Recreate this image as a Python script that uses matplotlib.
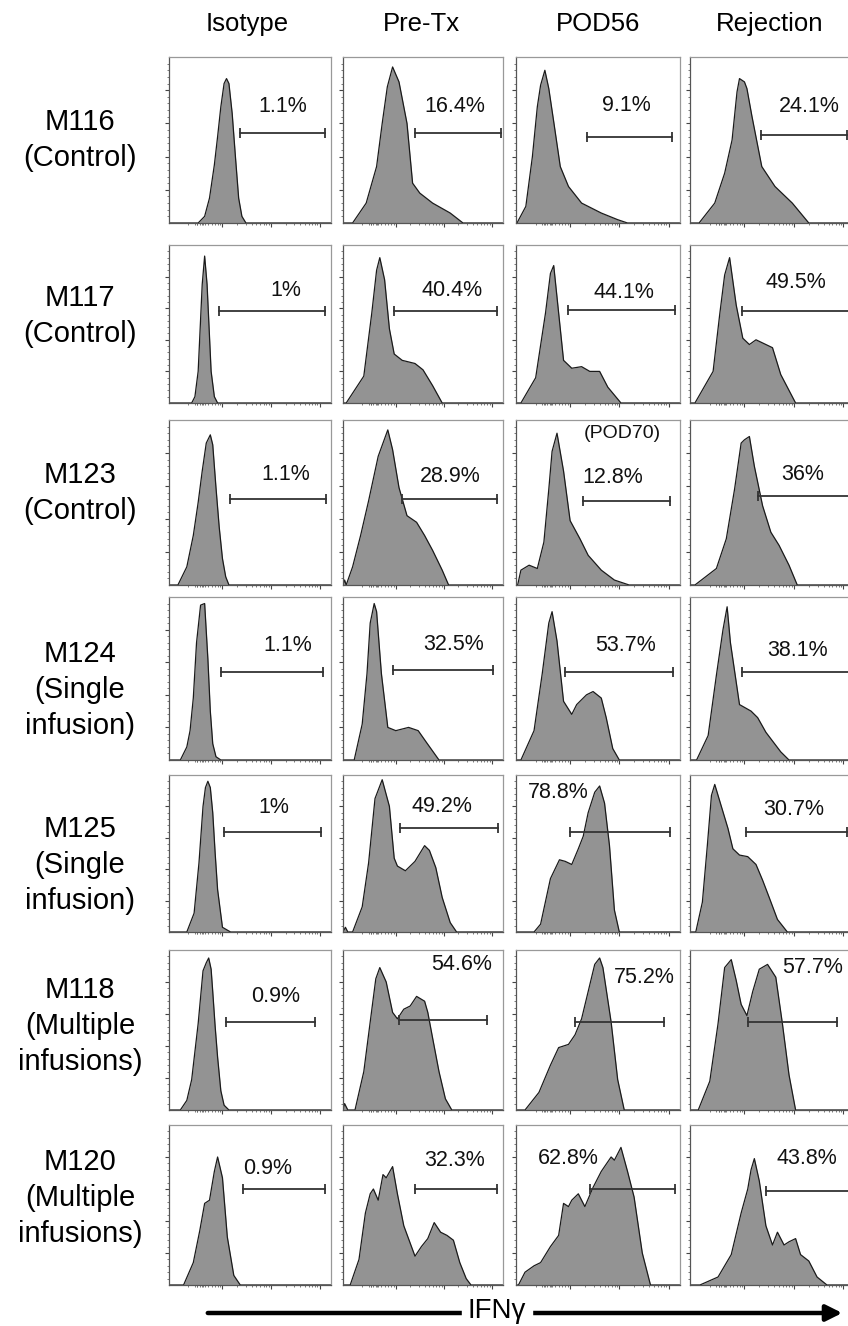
import numpy as np
import matplotlib
matplotlib.use("Agg")
import matplotlib.pyplot as plt

plt.rcParams['font.family'] = ['Liberation Sans', 'DejaVu Sans']

columns = ["Isotype", "Pre-Tx", "POD56", "Rejection"]
rows = ["M116\n(Control)", "M117\n(Control)", "M123\n(Control)",
        "M124\n(Single\ninfusion)", "M125\n(Single\ninfusion)",
        "M118\n(Multiple\ninfusions)", "M120\n(Multiple\ninfusions)"]

# percent positive per row (Isotype, Pre-Tx, POD56, Rejection)
pct_m116 = ["1.1%", "16.4%", "9.1%", "24.1%"]
pct_m117 = ["1%", "40.4%", "44.1%", "49.5%"]
pct_m123 = ["1.1%", "28.9%", "12.8%", "36%"]
pct_m124 = ["1.1%", "32.5%", "53.7%", "38.1%"]
pct_m125 = ["1%", "49.2%", "78.8%", "30.7%"]
pct_m118 = ["0.9%", "54.6%", "75.2%", "57.7%"]
pct_m120 = ["0.9%", "32.3%", "62.8%", "43.8%"]

# gate bars: (start, end, height) in panel fraction
gate_m116 = [(0.44, 0.96, 0.54), (0.45, 0.99, 0.54), (0.43, 0.95, 0.52), (0.43, 0.95, 0.53)]
gate_m117 = [(0.31, 0.96, 0.58), (0.32, 0.96, 0.58), (0.315, 0.97, 0.59), (0.315, 1.0, 0.58)]
gate_m123 = [(0.375, 0.97, 0.52), (0.37, 0.96, 0.52), (0.41, 0.94, 0.51), (0.41, 1.0, 0.54)]
gate_m124 = [(0.32, 0.95, 0.54), (0.31, 0.94, 0.55), (0.30, 0.96, 0.54), (0.315, 1.0, 0.54)]
gate_m125 = [(0.34, 0.94, 0.64), (0.355, 0.97, 0.66), (0.33, 0.94, 0.64), (0.34, 0.95, 0.64)]
gate_m118 = [(0.35, 0.90, 0.55), (0.35, 0.90, 0.56), (0.36, 0.90, 0.55), (0.35, 0.89, 0.55)]
gate_m120 = [(0.455, 0.96, 0.60), (0.45, 0.96, 0.60), (0.45, 0.97, 0.60), (0.46, 1.0, 0.59)]

# histogram outlines (x, count)
m116_iso = ([0.0, 0.18, 0.22, 0.25, 0.28, 0.30, 0.32, 0.34, 0.355, 0.37, 0.39, 0.41, 0.43, 0.45, 0.475, 1.0],
            [0.0, 0.0, 0.04, 0.15, 0.35, 0.52, 0.70, 0.84, 0.87, 0.84, 0.66, 0.40, 0.15, 0.04, 0.0, 0.0])
m116_pre = ([0.0, 0.06, 0.145, 0.21, 0.245, 0.277, 0.31, 0.35, 0.40, 0.435, 0.48, 0.56, 0.67, 0.75, 1.0],
            [0.0, 0.0, 0.12, 0.34, 0.60, 0.82, 0.94, 0.85, 0.60, 0.24, 0.18, 0.12, 0.06, 0.0, 0.0])
m116_pod = ([0.0, 0.006, 0.06, 0.10, 0.13, 0.15, 0.176, 0.20, 0.23, 0.27, 0.32, 0.40, 0.52, 0.62, 0.68, 1.0],
            [0.0, 0.0, 0.10, 0.40, 0.70, 0.83, 0.92, 0.81, 0.61, 0.34, 0.22, 0.12, 0.06, 0.02, 0.0, 0.0])
m116_rej = ([0.0, 0.055, 0.15, 0.21, 0.255, 0.285, 0.30, 0.33, 0.345, 0.375, 0.435, 0.515, 0.62, 0.72, 1.0],
            [0.0, 0.0, 0.12, 0.30, 0.50, 0.79, 0.87, 0.85, 0.81, 0.645, 0.34, 0.22, 0.12, 0.0, 0.0])

m117_iso = ([0.0, 0.14, 0.16, 0.18, 0.19, 0.205, 0.22, 0.235, 0.25, 0.26, 0.28, 0.30, 0.32, 1.0],
            [0.0, 0.0, 0.04, 0.20, 0.42, 0.75, 0.93, 0.75, 0.42, 0.20, 0.04, 0.0, 0.0, 0.0])
m117_pre = ([0.0, 0.02, 0.13, 0.18, 0.21, 0.23, 0.26, 0.29, 0.32, 0.37, 0.45, 0.50, 0.56, 0.62, 1.0],
            [0.0, 0.0, 0.17, 0.57, 0.84, 0.92, 0.78, 0.47, 0.31, 0.27, 0.25, 0.21, 0.11, 0.0, 0.0])
m117_pod = ([0.0, 0.03, 0.12, 0.18, 0.21, 0.23, 0.25, 0.29, 0.34, 0.40, 0.45, 0.51, 0.56, 0.64, 1.0],
            [0.0, 0.0, 0.16, 0.57, 0.82, 0.87, 0.67, 0.27, 0.22, 0.23, 0.20, 0.20, 0.10, 0.0, 0.0])
m117_rej = ([0.0, 0.03, 0.14, 0.18, 0.21, 0.24, 0.28, 0.32, 0.36, 0.40, 0.46, 0.50, 0.55, 0.64, 1.0],
            [0.0, 0.0, 0.20, 0.56, 0.81, 0.92, 0.62, 0.41, 0.37, 0.40, 0.37, 0.35, 0.18, 0.0, 0.0])

m123_iso = ([0.0, 0.055, 0.11, 0.15, 0.18, 0.205, 0.23, 0.255, 0.27, 0.29, 0.31, 0.33, 0.35, 0.37, 1.0],
            [0.0, 0.0, 0.11, 0.30, 0.50, 0.69, 0.86, 0.91, 0.85, 0.59, 0.35, 0.16, 0.05, 0.0, 0.0])
m123_pre = ([0.0, 0.01, 0.02, 0.06, 0.11, 0.16, 0.22, 0.28, 0.31, 0.35, 0.40, 0.46, 0.51, 0.56, 0.62, 0.66, 1.0],
            [0.0, 0.03, 0.0, 0.11, 0.30, 0.51, 0.78, 0.94, 0.82, 0.59, 0.42, 0.38, 0.30, 0.21, 0.09, 0.0, 0.0])
m123_pod = ([0.0, 0.01, 0.03, 0.08, 0.13, 0.17, 0.20, 0.22, 0.25, 0.29, 0.33, 0.39, 0.44, 0.52, 0.60, 0.69, 1.0],
            [0.0, 0.0, 0.09, 0.12, 0.10, 0.26, 0.58, 0.81, 0.92, 0.69, 0.39, 0.28, 0.18, 0.09, 0.03, 0.0, 0.0])
m123_rej = ([0.0, 0.03, 0.16, 0.22, 0.27, 0.31, 0.33, 0.36, 0.39, 0.44, 0.49, 0.54, 0.60, 0.65, 1.0],
            [0.0, 0.0, 0.10, 0.28, 0.58, 0.86, 0.88, 0.90, 0.72, 0.48, 0.32, 0.24, 0.12, 0.0, 0.0])

m124_iso = ([0.0, 0.07, 0.11, 0.13, 0.15, 0.17, 0.195, 0.22, 0.24, 0.255, 0.27, 0.29, 0.32, 1.0],
            [0.0, 0.0, 0.08, 0.18, 0.38, 0.72, 0.95, 0.96, 0.62, 0.30, 0.10, 0.02, 0.0, 0.0])
m124_pre = ([0.0, 0.07, 0.12, 0.15, 0.17, 0.195, 0.21, 0.24, 0.28, 0.33, 0.41, 0.47, 0.52, 0.60, 1.0],
            [0.0, 0.0, 0.22, 0.53, 0.84, 0.96, 0.91, 0.53, 0.20, 0.18, 0.20, 0.18, 0.11, 0.0, 0.0])
m124_pod = ([0.0, 0.03, 0.11, 0.16, 0.20, 0.22, 0.25, 0.29, 0.34, 0.37, 0.43, 0.47, 0.52, 0.55, 0.59, 0.63, 1.0],
            [0.0, 0.0, 0.18, 0.53, 0.84, 0.91, 0.73, 0.36, 0.28, 0.34, 0.40, 0.42, 0.38, 0.26, 0.07, 0.0, 0.0])
m124_rej = ([0.0, 0.04, 0.11, 0.16, 0.20, 0.225, 0.245, 0.30, 0.37, 0.41, 0.46, 0.55, 0.60, 1.0],
            [0.0, 0.0, 0.15, 0.52, 0.80, 0.94, 0.72, 0.34, 0.30, 0.26, 0.17, 0.05, 0.0, 0.0])

m125_iso = ([0.0, 0.11, 0.155, 0.185, 0.21, 0.225, 0.24, 0.255, 0.27, 0.285, 0.30, 0.33, 0.38, 1.0],
            [0.0, 0.0, 0.12, 0.44, 0.80, 0.92, 0.96, 0.92, 0.76, 0.50, 0.27, 0.03, 0.0, 0.0])
m125_pre = ([0.0, 0.015, 0.03, 0.06, 0.12, 0.16, 0.20, 0.245, 0.29, 0.32, 0.34, 0.39, 0.45, 0.51, 0.54, 0.58, 0.62, 0.67, 0.71, 1.0],
            [0.0, 0.03, 0.0, 0.0, 0.16, 0.44, 0.85, 0.97, 0.80, 0.47, 0.42, 0.39, 0.45, 0.55, 0.52, 0.41, 0.22, 0.06, 0.0, 0.0])
m125_pod = ([0.0, 0.11, 0.15, 0.21, 0.265, 0.30, 0.34, 0.38, 0.41, 0.44, 0.48, 0.51, 0.54, 0.57, 0.60, 0.63, 1.0],
            [0.0, 0.0, 0.05, 0.34, 0.46, 0.45, 0.43, 0.53, 0.61, 0.76, 0.89, 0.93, 0.82, 0.55, 0.14, 0.0, 0.0])
m125_rej = ([0.0, 0.035, 0.075, 0.105, 0.13, 0.15, 0.19, 0.23, 0.26, 0.30, 0.35, 0.40, 0.44, 0.48, 0.53, 0.59, 1.0],
            [0.0, 0.0, 0.19, 0.55, 0.87, 0.94, 0.80, 0.66, 0.53, 0.49, 0.48, 0.43, 0.33, 0.22, 0.08, 0.0, 0.0])

m118_iso = ([0.0, 0.07, 0.11, 0.14, 0.18, 0.21, 0.23, 0.245, 0.26, 0.27, 0.285, 0.30, 0.32, 0.34, 0.37, 1.0],
            [0.0, 0.0, 0.06, 0.19, 0.54, 0.87, 0.92, 0.95, 0.88, 0.74, 0.52, 0.33, 0.12, 0.03, 0.0, 0.0])
m118_pre = ([0.0, 0.01, 0.03, 0.075, 0.13, 0.17, 0.205, 0.23, 0.27, 0.31, 0.34, 0.38, 0.42, 0.46, 0.51, 0.53, 0.56, 0.60, 0.64, 0.68, 1.0],
            [0.0, 0.04, 0.0, 0.0, 0.24, 0.55, 0.82, 0.89, 0.80, 0.61, 0.57, 0.63, 0.65, 0.71, 0.68, 0.61, 0.45, 0.24, 0.07, 0.0, 0.0])
m118_pod = ([0.0, 0.055, 0.14, 0.21, 0.26, 0.32, 0.36, 0.40, 0.44, 0.48, 0.51, 0.53, 0.58, 0.62, 0.66, 1.0],
            [0.0, 0.0, 0.11, 0.28, 0.39, 0.41, 0.47, 0.57, 0.74, 0.91, 0.95, 0.89, 0.55, 0.19, 0.0, 0.0])
m118_rej = ([0.0, 0.05, 0.12, 0.17, 0.21, 0.25, 0.28, 0.31, 0.345, 0.38, 0.42, 0.47, 0.52, 0.56, 0.60, 0.64, 1.0],
            [0.0, 0.0, 0.18, 0.54, 0.89, 0.94, 0.81, 0.66, 0.59, 0.74, 0.88, 0.91, 0.83, 0.54, 0.22, 0.0, 0.0])

m120_iso = ([0.0, 0.09, 0.15, 0.19, 0.22, 0.25, 0.28, 0.30, 0.33, 0.36, 0.40, 0.44, 1.0],
            [0.0, 0.0, 0.14, 0.34, 0.51, 0.53, 0.71, 0.80, 0.67, 0.30, 0.06, 0.0, 0.0])
m120_pre = ([0.0, 0.045, 0.10, 0.14, 0.17, 0.19, 0.22, 0.25, 0.27, 0.31, 0.34, 0.38, 0.45, 0.49, 0.53, 0.57, 0.61, 0.65, 0.69, 0.73, 0.77, 0.80, 1.0],
            [0.0, 0.0, 0.16, 0.45, 0.57, 0.60, 0.53, 0.69, 0.67, 0.74, 0.57, 0.37, 0.18, 0.24, 0.29, 0.39, 0.33, 0.31, 0.28, 0.14, 0.04, 0.0, 0.0])
m120_pod = ([0.0, 0.015, 0.055, 0.11, 0.15, 0.21, 0.26, 0.29, 0.32, 0.34, 0.38, 0.42, 0.47, 0.52, 0.58, 0.60, 0.64, 0.68, 0.72, 0.77, 0.82, 1.0],
            [0.0, 0.0, 0.08, 0.12, 0.14, 0.24, 0.31, 0.51, 0.49, 0.53, 0.57, 0.49, 0.61, 0.71, 0.80, 0.78, 0.86, 0.71, 0.55, 0.20, 0.0, 0.0])
m120_rej = ([0.0, 0.06, 0.17, 0.25, 0.31, 0.35, 0.37, 0.39, 0.42, 0.46, 0.50, 0.53, 0.57, 0.60, 0.64, 0.67, 0.72, 0.77, 0.83, 1.0],
            [0.0, 0.0, 0.05, 0.19, 0.45, 0.60, 0.72, 0.79, 0.65, 0.37, 0.25, 0.33, 0.25, 0.27, 0.29, 0.19, 0.15, 0.05, 0.0, 0.0])

hists = [[m116_iso, m116_pre, m116_pod, m116_rej],
         [m117_iso, m117_pre, m117_pod, m117_rej],
         [m123_iso, m123_pre, m123_pod, m123_rej],
         [m124_iso, m124_pre, m124_pod, m124_rej],
         [m125_iso, m125_pre, m125_pod, m125_rej],
         [m118_iso, m118_pre, m118_pod, m118_rej],
         [m120_iso, m120_pre, m120_pod, m120_rej]]
pcts = [pct_m116, pct_m117, pct_m123, pct_m124, pct_m125, pct_m118, pct_m120]
gates = [gate_m116, gate_m117, gate_m123, gate_m124, gate_m125, gate_m118, gate_m120]

# label placement inside each panel (axes fraction)
txt_pos = [[(0.70, 0.70), (0.70, 0.70), (0.67, 0.71), (0.725, 0.70)],
           [(0.72, 0.71), (0.68, 0.71), (0.66, 0.70), (0.64, 0.76)],
           [(0.72, 0.67), (0.67, 0.66), (0.59, 0.65), (0.68, 0.67)],
           [(0.735, 0.70), (0.69, 0.71), (0.67, 0.70), (0.65, 0.67)],
           [(0.645, 0.79), (0.62, 0.80), (0.255, 0.89), (0.63, 0.78)],
           [(0.66, 0.71), (0.74, 0.91), (0.78, 0.83), (0.745, 0.89)],
           [(0.61, 0.73), (0.70, 0.78), (0.32, 0.79), (0.71, 0.79)]]

W, H = 848, 1326
fig = plt.figure(figsize=(W / 100, H / 100), dpi=100)

col_left = [169, 343, 516, 690]
col_w = [162, 160, 164, 165]
row_top = [57, 245, 420, 597, 775, 950, 1125]
row_bot = [223, 403, 585, 760, 932, 1110, 1285]

fill_c = '#939393'
frame_c = '#555555'

# bottom axis ticks: biexponential-like scale
xmaj = [0.33, 0.63, 0.93]
xmin = []
for d0, d1 in zip([0.03] + xmaj[:-1], xmaj):
    for k in range(2, 10):
        xmin.append(d0 + (d1 - d0) * np.log10(k))
xmin += [0.16, 0.175, 0.19, 0.205, 0.22]

for r in range(7):
    for c in range(4):
        ax = fig.add_axes([col_left[c] / W, 1 - row_bot[r] / H,
                           col_w[c] / W, (row_bot[r] - row_top[r]) / H])
        x, y = hists[r][c]
        ax.fill_between(x, y, 0, color=fill_c, lw=0)
        ax.plot(x, y, color='#1a1a1a', lw=0.9)
        g0, g1, gy = gates[r][c]
        ax.plot([g0, g1], [gy, gy], color='#333333', lw=1.3,
                marker='|', markersize=7, mew=1.3, clip_on=False)
        tx, ty = txt_pos[r][c]
        ax.text(tx, ty, pcts[r][c], transform=ax.transAxes, ha='center',
                va='center', fontsize=15.5, color='#111111')
        if r == 2 and c == 2:
            ax.text(0.65, 0.92, "(POD70)", transform=ax.transAxes,
                    ha='center', va='center', fontsize=14, color='#111111')
        ax.set_xlim(0, 1)
        ax.set_ylim(0, 1.0)
        for s in ax.spines.values():
            s.set_color(frame_c)
            s.set_linewidth(0.9)
        ax.spines['top'].set_color('#999999')
        ax.spines['right'].set_color('#999999')
        ax.set_yticks(np.arange(0.2, 1.0, 0.2))
        ax.set_yticks(np.arange(0.04, 1.0, 0.04), minor=True)
        ax.set_xticks(xmaj)
        ax.set_xticks(xmin, minor=True)
        ax.tick_params(axis='both', which='major', length=3, width=0.8,
                       color='#444444', labelleft=False, labelbottom=False)
        ax.tick_params(axis='both', which='minor', length=1.5, width=0.6,
                       color='#666666')

# column headers
head_x = [247, 421, 598, 770]
for c in range(4):
    fig.text(head_x[c] / W, 1 - 24 / H, columns[c], ha='center', va='center',
             fontsize=18.5, family=['Liberation Sans Narrow', 'Liberation Sans'])

# row labels
label_y = [140, 316, 493, 690, 865, 1026, 1198]
for r in range(7):
    fig.text(80 / W, 1 - label_y[r] / H, rows[r], ha='center', va='center',
             fontsize=21, linespacing=1.35)

# IFNy arrow
fig.patches.append(matplotlib.patches.FancyArrowPatch(
    (205 / W, 1 - 1313 / H), (845 / W, 1 - 1313 / H),
    transform=fig.transFigure, arrowstyle='-|>', mutation_scale=24,
    lw=3.2, color='black'))
fig.text(497 / W, 1 - 1311 / H, "IFN\u03b3", ha='center', va='center',
         fontsize=20, backgroundcolor='white',
         family=['Liberation Sans Narrow', 'Liberation Sans'])

fig.savefig("out.png", dpi=100)
